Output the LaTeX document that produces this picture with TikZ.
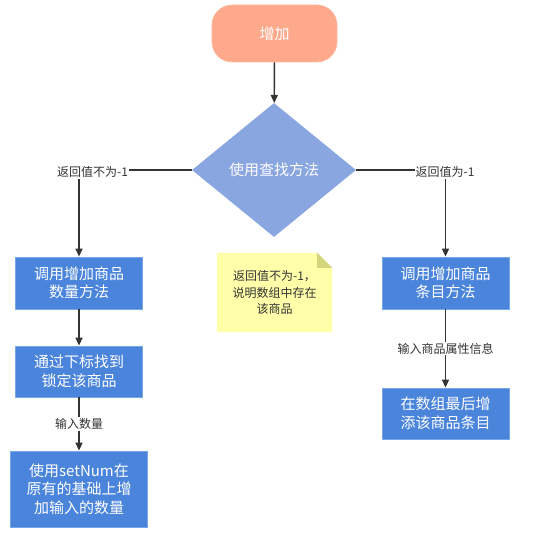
\documentclass[tikz,border=0pt]{standalone}
\usepackage{fontspec}
\setmainfont{Noto Sans CJK SC}
\usetikzlibrary{shapes.geometric,arrows.meta}
\definecolor{startfill}{HTML}{FFA98C}
\definecolor{startdraw}{HTML}{FFB8A0}
\definecolor{diafill}{HTML}{8AA6E0}
\definecolor{boxfill}{HTML}{4A84DB}
\definecolor{boxdraw}{HTML}{78A6EC}
\definecolor{notefill}{HTML}{FFFFAA}
\definecolor{notefold}{HTML}{D4D47C}
\definecolor{linec}{HTML}{333333}
\tikzset{
  bigtext/.style={font=\fontsize{15}{18.5}\selectfont, text=white, align=center},
  procbox/.style={rectangle, fill=boxfill, draw=boxdraw, line width=0.8pt, bigtext, inner sep=0pt, minimum width=127pt, minimum height=52pt},
  conn/.style={draw=linec, line width=1.4pt, -{Triangle[length=8pt,width=7pt]}},
  plainconn/.style={draw=linec, line width=1.4pt},
  edgelabel/.style={font=\fontsize{12}{14}\selectfont, text=linec, fill=white, inner sep=1pt},
}
\begin{document}
\begin{tikzpicture}[x=1pt,y=-1pt]
\useasboundingbox (0,0) rectangle (553,545);
\node[rectangle, rounded corners=20pt, fill=startfill, draw=startdraw, line width=0.6pt, minimum width=125pt, minimum height=57pt, bigtext] (start) at (274.5,33.5) {增加};
\node[diamond, fill=diafill, inner sep=0pt, minimum width=164pt, minimum height=134pt, bigtext] (dec) at (274,170) {使用查找方法};
\node[procbox] (b1) at (79,283) {调用增加商品\\数量方法};
\node[procbox, minimum height=51pt] (b2) at (79,371.5) {通过下标找到\\锁定该商品};
\node[procbox, minimum width=137pt, minimum height=76pt] (b3) at (79,489) {使用setNum在\\原有的基础上增\\加输入的数量};
\node[procbox] (b4) at (445.5,283) {调用增加商品\\条目方法};
\node[procbox, minimum height=51pt] (b5) at (445.5,413.5) {在数组最后增\\添该商品条目};
% note
\node[minimum width=115pt, minimum height=79pt, inner sep=0pt] (note) at (274.5,292.5) {};
\fill[notefill] (note.north west) -- ([xshift=-15pt]note.north east) -- ([yshift=-15pt]note.north east) -- (note.south east) -- (note.south west) -- cycle;
\fill[notefold] ([xshift=-15pt]note.north east) -- ([yshift=-15pt]note.north east) -- ([xshift=-15pt,yshift=-15pt]note.north east) -- cycle;
\node[font=\fontsize{12}{16.5}\selectfont, text=linec, align=center] (notetext) at (note.center) {返回值不为-1，\\说明数组中存在\\该商品};
% connectors
\draw[conn] (start) -- (dec);
\draw[conn] (dec.west) -| (b1.north);
\node[edgelabel] (ll) at (92.5,172) {返回值不为-1};
\draw[conn] (dec.east) -| (b4.north);
\node[edgelabel] (rl) at (445,172) {返回值为-1};
\draw[conn] (b1) -- (b2);
\draw[conn] (b2) -- (b3) node[edgelabel, pos=0.5] (l3) {输入数量};
\draw[conn] (b4) -- (b5) node[edgelabel, pos=0.5] (l5) {输入商品属性信息};
\end{tikzpicture}
\end{document}
